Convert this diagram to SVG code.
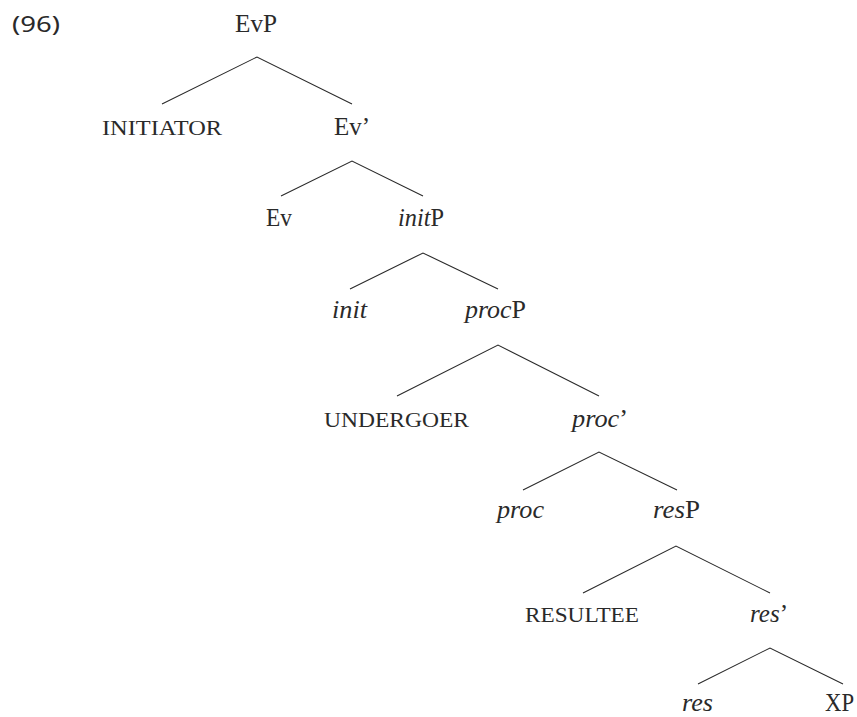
<svg xmlns="http://www.w3.org/2000/svg" width="857" height="717" viewBox="0 0 857 717">
  <style>
    .lbl { font-family: "Liberation Serif", "DejaVu Serif", serif; font-size: 25px; fill: #2a2a2a; }
    .sc { font-size: 20px; }
    .it { font-style: italic; }
    .num { font-family: "Noto Sans", "Liberation Sans", sans-serif; font-size: 22px; fill: #2a2a2a; }
    .edge { stroke: #2a2a2a; stroke-width: 1.1; fill: none; }
  </style>
  <rect width="857" height="717" fill="#ffffff"/>

  <!-- example number -->
  <text class="num" x="12" y="32" textLength="48" lengthAdjust="spacingAndGlyphs">(96)</text>

  <!-- branches: each polyline runs left daughter → mother → right daughter -->
  <g id="connectors">
    <polyline class="edge" points="162,104 257,57 352,104"/>
    <polyline class="edge" points="281,196 352,161 423,196"/>
    <polyline class="edge" points="350,289 423,253 498,289"/>
    <polyline class="edge" points="397,396 498,345 599,396"/>
    <polyline class="edge" points="523,490 599,452 677,490"/>
    <polyline class="edge" points="583,593 676,546 770,593"/>
    <polyline class="edge" points="698,684 770,648 843,684"/>
  </g>

  <g id="EvP"><text class="lbl" x="235" y="32" textLength="42" lengthAdjust="spacingAndGlyphs">EvP</text></g>
  <g id="initiator"><text class="lbl sc" x="102" y="135" textLength="120" lengthAdjust="spacingAndGlyphs">INITIATOR</text></g>
  <g id="Ev-bar"><text class="lbl" x="334" y="135" textLength="36" lengthAdjust="spacingAndGlyphs">Ev’</text></g>
  <g id="Ev"><text class="lbl" x="266" y="226" textLength="26" lengthAdjust="spacingAndGlyphs">Ev</text></g>
  <g id="initP"><text class="lbl" x="398" y="226" textLength="46" lengthAdjust="spacingAndGlyphs"><tspan class="it">init</tspan>P</text></g>
  <g id="init"><text class="lbl it" x="332" y="318" textLength="35" lengthAdjust="spacingAndGlyphs">init</text></g>
  <g id="procP"><text class="lbl" x="465" y="318" textLength="61" lengthAdjust="spacingAndGlyphs"><tspan class="it">proc</tspan>P</text></g>
  <g id="undergoer"><text class="lbl sc" x="324" y="427" textLength="145" lengthAdjust="spacingAndGlyphs">UNDERGOER</text></g>
  <g id="proc-bar"><text class="lbl" x="572" y="427" textLength="56" lengthAdjust="spacingAndGlyphs"><tspan class="it">proc</tspan>’</text></g>
  <g id="proc"><text class="lbl it" x="497" y="518" textLength="47" lengthAdjust="spacingAndGlyphs">proc</text></g>
  <g id="resP"><text class="lbl" x="653" y="518" textLength="47" lengthAdjust="spacingAndGlyphs"><tspan class="it">res</tspan>P</text></g>
  <g id="resultee"><text class="lbl sc" x="525" y="622" textLength="114" lengthAdjust="spacingAndGlyphs">RESULTEE</text></g>
  <g id="res-bar"><text class="lbl" x="750" y="622" textLength="38" lengthAdjust="spacingAndGlyphs"><tspan class="it">res</tspan>’</text></g>
  <g id="res"><text class="lbl it" x="682" y="711" textLength="31" lengthAdjust="spacingAndGlyphs">res</text></g>
  <g id="XP"><text class="lbl" x="825" y="711" textLength="29" lengthAdjust="spacingAndGlyphs">XP</text></g>
</svg>
